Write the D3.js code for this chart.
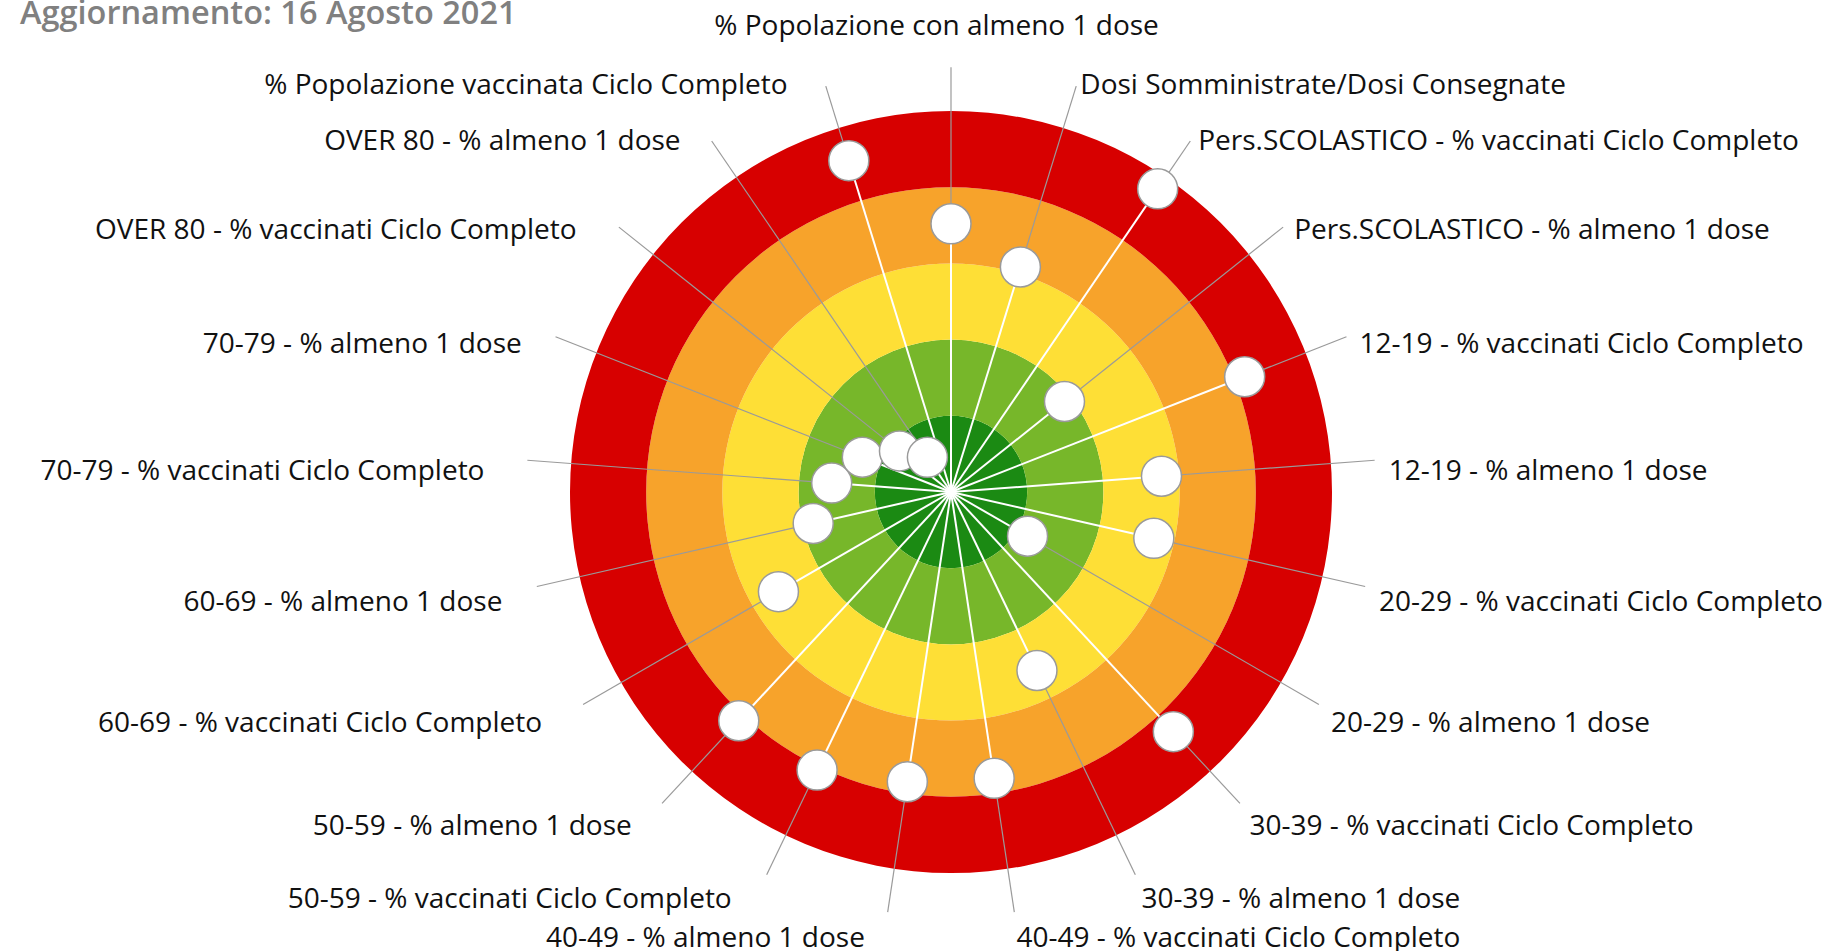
<!DOCTYPE html>
<html>
<head>
<meta charset="utf-8">
<script src="https://cdnjs.cloudflare.com/ajax/libs/d3/7.8.5/d3.min.js"></script>
<style>
  body { margin: 0; background: #fff; overflow: hidden; }
  svg { display: block; }
</style>
</head>
<body>
<div id="chart"></div>
<script>
// indicatori, in senso orario partendo dall'alto
const categorie = [
    "% Popolazione con almeno 1 dose",
    "Dosi Somministrate/Dosi Consegnate",
    "Pers.SCOLASTICO - % vaccinati Ciclo Completo",
    "Pers.SCOLASTICO - % almeno 1 dose",
    "12-19 - % vaccinati Ciclo Completo",
    "12-19 - % almeno 1 dose",
    "20-29 - % vaccinati Ciclo Completo",
    "20-29 - % almeno 1 dose",
    "30-39 - % vaccinati Ciclo Completo",
    "30-39 - % almeno 1 dose",
    "40-49 - % vaccinati Ciclo Completo",
    "40-49 - % almeno 1 dose",
    "50-59 - % vaccinati Ciclo Completo",
    "50-59 - % almeno 1 dose",
    "60-69 - % vaccinati Ciclo Completo",
    "60-69 - % almeno 1 dose",
    "70-79 - % vaccinati Ciclo Completo",
    "70-79 - % almeno 1 dose",
    "OVER 80 - % vaccinati Ciclo Completo",
    "OVER 80 - % almeno 1 dose",
    "% Popolazione vaccinata Ciclo Completo"
];

// distanza dal centro (0 = obiettivo raggiunto, 100 = bordo esterno)
const punteggio = [70.4, 61.8, 96.3, 38.1, 82.8, 55.4, 54.6, 23.2, 85.8, 52.0, 76.0,
                   76.9, 81.0, 81.9, 52.3, 37.1, 31.4, 25.0, 17.3, 11.0, 91.0];

// fasce di valutazione
const soglie = [20, 40, 60, 80, 100];
const coloriFasce = ["#1B8A13", "#77B72A", "#FEDF36", "#F7A32B", "#D70000"];

const aggiornamento = "Aggiornamento: 16 Agosto 2021";

const width = 1839, height = 951;
const cx = 951, cy = 492, R = 381;
const fontLabel = 28;

const svg = d3.select("#chart").append("svg")
    .attr("width", width)
    .attr("height", height)
    .attr("viewBox", `0 0 ${width} ${height}`)
    .style("font-family", "'Open Sans', sans-serif");

svg.append("text")
    .attr("x", 20)
    .attr("y", 24)
    .attr("fill", "#808080")
    .style("font-size", "32.5px")
    .style("font-weight", 600)
    .text(aggiornamento);

const r = d3.scaleLinear().domain([0, 100]).range([0, R]);
const angle = d3.scaleLinear().domain([0, categorie.length]).range([0, 2 * Math.PI]);

const g = svg.append("g").attr("transform", `translate(${cx},${cy})`);

// anelli colorati
const arc = d3.arc();
g.append("g").selectAll("path")
    .data(soglie)
    .enter().append("path")
    .attr("d", (d, i) => arc({
        innerRadius: i === 0 ? 0 : r(soglie[i - 1]),
        outerRadius: r(d),
        startAngle: 0,
        endAngle: 2 * Math.PI
    }))
    .attr("fill", (d, i) => coloriFasce[i]);

const data = categorie.map((c, i) => ({ nome: c, valore: punteggio[i], a: angle(i) }));

const leaderEnd = R * 1.115;
const labelR = R * 1.152;

// linee guida verso le etichette
g.append("g").selectAll("line")
    .data(data)
    .enter().append("line")
    .attr("x1", d => d3.pointRadial(d.a, r(d.valore))[0])
    .attr("y1", d => d3.pointRadial(d.a, r(d.valore))[1])
    .attr("x2", d => d3.pointRadial(d.a, leaderEnd)[0])
    .attr("y2", d => d3.pointRadial(d.a, leaderEnd)[1])
    .attr("stroke", "#9a9a9a")
    .attr("stroke-width", 1.2);

// raggi bianchi
g.append("g").selectAll("line")
    .data(data)
    .enter().append("line")
    .attr("x1", 0)
    .attr("y1", 0)
    .attr("x2", d => d3.pointRadial(d.a, r(d.valore))[0])
    .attr("y2", d => d3.pointRadial(d.a, r(d.valore))[1])
    .attr("stroke", "#fff")
    .attr("stroke-width", 2);

// punti
g.append("g").selectAll("circle")
    .data(data)
    .enter().append("circle")
    .attr("cx", d => d3.pointRadial(d.a, r(d.valore))[0])
    .attr("cy", d => d3.pointRadial(d.a, r(d.valore))[1])
    .attr("r", 20)
    .attr("fill", "#fff")
    .attr("stroke", "#9a9a9a")
    .attr("stroke-width", 1.5);

// etichette
const labels = g.append("g").selectAll("text")
    .data(data)
    .enter().append("text")
    .style("font-size", fontLabel + "px")
    .attr("fill", "#111")
    .text(d => d.nome);

labels.each(function (d, i) {
    const t = d3.select(this);
    const w = this.getComputedTextLength();
    const [ax, ay] = d3.pointRadial(d.a, labelR);
    if (i === 0) {
        t.attr("text-anchor", "start")
            .attr("x", ax - w * 1.065 / 2)
            .attr("y", ay - 18);
    } else if (ax > 0) {
        t.attr("text-anchor", "start")
            .attr("x", ax)
            .attr("y", ay + 21);
    } else {
        t.attr("text-anchor", "end")
            .attr("x", ax - w * 0.065)
            .attr("y", ay + 21);
    }
});
</script>
</body>
</html>
